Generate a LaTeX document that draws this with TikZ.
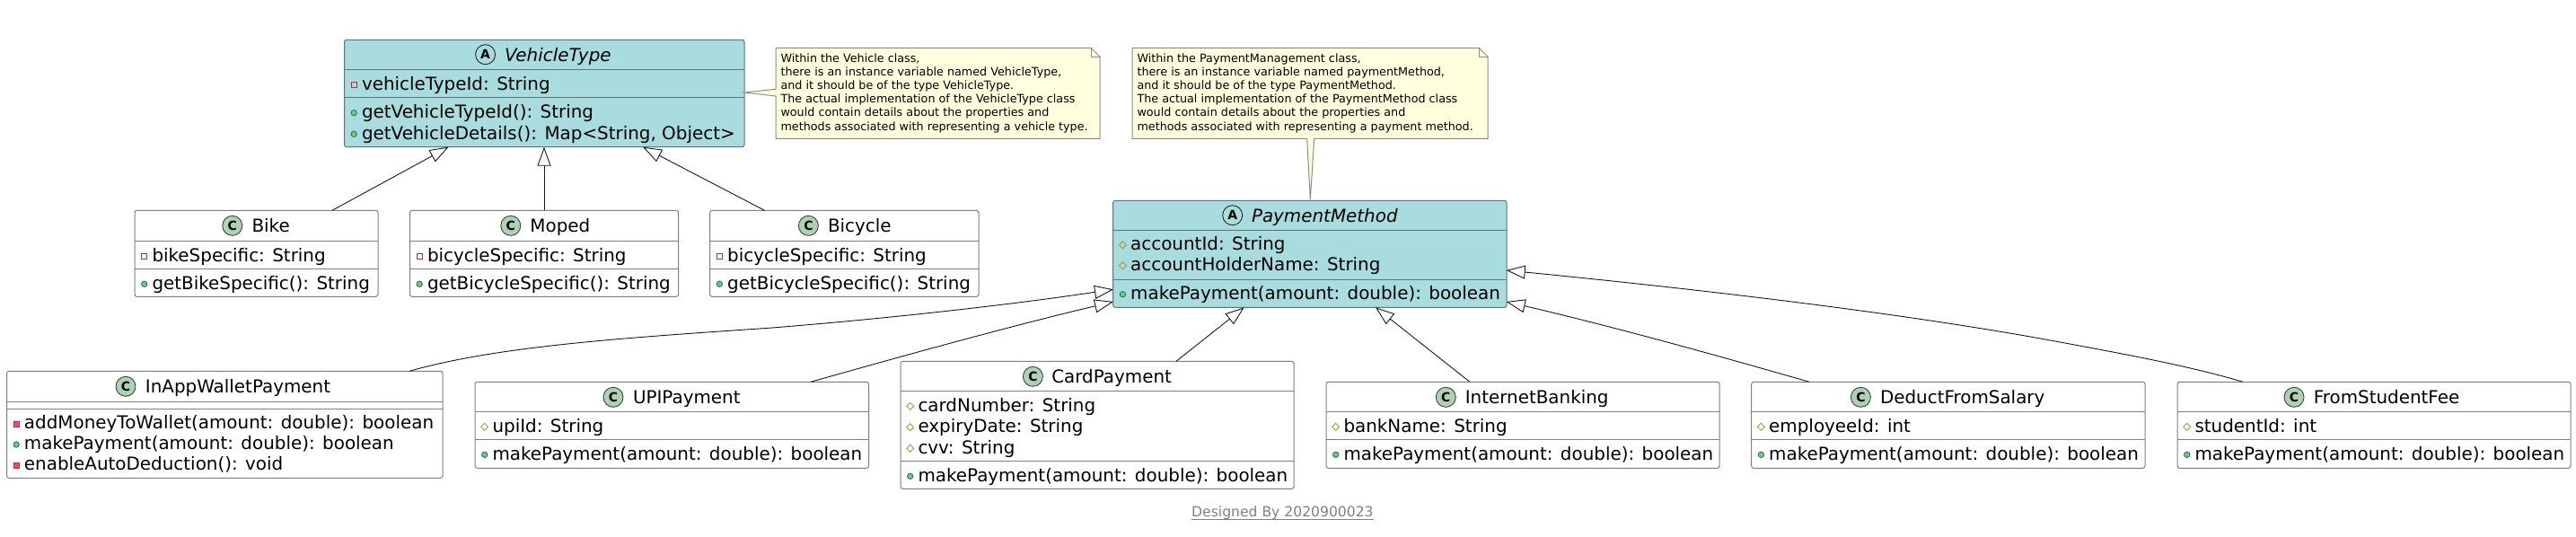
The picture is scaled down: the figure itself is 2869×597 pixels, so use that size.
\documentclass[tikz,border=0pt]{standalone}
\usepackage{fontspec}
\usetikzlibrary{calc,arrows.meta}
\setmainfont{DejaVu Sans}
\definecolor{tealc}{HTML}{A9DCDF}
\definecolor{edgec}{HTML}{181818}
\definecolor{bord}{HTML}{7F7F7F}
\definecolor{tealbord}{HTML}{5F7476}
\definecolor{notefill}{HTML}{FEFFDD}
\definecolor{notebord}{HTML}{8D8D85}
\definecolor{spotc}{HTML}{ADD1B2}
\definecolor{pubg}{HTML}{84BE84}
\definecolor{pubd}{HTML}{038048}
\definecolor{privd}{HTML}{C82930}
\definecolor{privf}{HTML}{F24D5C}
\definecolor{protd}{HTML}{B38D22}
\definecolor{footc}{HTML}{808080}
\newcommand{\tsize}{\fontsize{19.9}{23}\selectfont}
\newcommand{\nsize}{\fontsize{12.75}{15.2}\selectfont}
\tikzset{
 x=1pt,y=-1pt,
 txt/.style={anchor=base west,inner sep=0pt,outer sep=0pt,font=\tsize,text=black},
 ntxt/.style={anchor=north west,inner sep=0pt,outer sep=0pt,font=\nsize,text=black,align=left},
 cbox/.style={draw=bord,fill=white,line width=1pt,rounded corners=2.5pt,inner sep=0pt,outer sep=0pt},
 abox/.style={draw=tealbord,fill=tealc,line width=1pt,rounded corners=2.5pt,inner sep=0pt,outer sep=0pt},
 gen/.style={draw=edgec,line width=0.9pt,-{Triangle[open,fill=white,length=21pt,width=15pt,line width=0.9pt]}},
 notebox/.style={draw=notebord,fill=notefill,line width=1pt,line join=miter}
}
\newcommand{\cls}[6]{%
 \pgfmathsetmacro{\cw}{#4-#2}\pgfmathsetmacro{\ch}{#5-#3}%
 \node[#6,minimum width=\cw pt,minimum height=\ch pt] (#1) at ({(#2+#4)/2},{(#3+#5)/2}) {};}
\newcommand{\dv}[3]{\draw[draw=#3,line width=1pt] ($(#1.north west)+(0,#2)$) -- ($(#1.north east)+(0,#2)$);}
\newcommand{\ttl}[5]{%
 \draw[draw=black!75,fill=spotc,line width=0.9pt] ($(#1.north west)+(#2,17)$) circle (11);
 \node[inner sep=0pt,font=\fontsize{14}{14}\selectfont\bfseries] (#1-s) at ($(#1.north west)+(#2,17)$) {#5};
 \node[txt] (#1-t) at ($(#1.north west)+(#3,24)$) {#4};}
\newcommand{\attl}[4]{%
 \draw[draw=black!85,fill=tealc,line width=0.9pt] ($(#1.north west)+(#2,16.4)$) circle (11);
 \node[inner sep=0pt,font=\fontsize{14}{14}\selectfont\bfseries] (#1-s) at ($(#1.north west)+(#2,16.4)$) {A};
 \node[txt,font=\tsize\itshape] (#1-t) at ($(#1.north west)+(#3,23.7)$) {#4};}
\newcommand{\mem}[5]{%
 \coordinate (ic) at ($(#1.north west)+(10.7,#3-5)$);
 \csname ic#4\endcsname
 \node[txt] (#1-#2) at ($(#1.north west)+(19.5,#3+0.8)$) {#5};}
\newcommand{\icpub}{\draw[draw=pubd,fill=pubg,line width=0.8pt] (ic) circle (3.2);}
\newcommand{\icprivo}{\draw[draw=privd,line width=0.8pt] ($(ic)+(-2.9,-2.9)$) rectangle ($(ic)+(2.9,2.9)$);}
\newcommand{\icprivf}{\draw[draw=privd,fill=privf,line width=0.8pt] ($(ic)+(-2.9,-2.9)$) rectangle ($(ic)+(2.9,2.9)$);}
\newcommand{\icprot}{\draw[draw=protd,line width=0.8pt] ($(ic)+(-4,0)$) -- ($(ic)+(0,-4)$) -- ($(ic)+(4,0)$) -- ($(ic)+(0,4)$) -- cycle;}
\begin{document}
\begin{tikzpicture}
\useasboundingbox[fill=white] (0,0) rectangle (2869,597);
% classes
\cls{vt}{383.5}{44.3}{829}{163.7}{abox}
\cls{pm}{1239.7}{223.3}{1678}{342.3}{abox}
\cls{bike}{150}{234.3}{421}{330.3}{cbox}
\cls{moped}{456.5}{234.3}{755.6}{330.3}{cbox}
\cls{bicycle}{790.7}{234.3}{1090}{330.3}{cbox}
\cls{wal}{7.5}{413.3}{493}{532.3}{cbox}
\cls{upi}{529}{425.3}{967.5}{521.3}{cbox}
\cls{card}{1003}{402.3}{1441}{544.3}{cbox}
\cls{ib}{1477}{425.3}{1915}{521.3}{cbox}
\cls{ded}{1950.7}{425.3}{2389}{521.3}{cbox}
\cls{stu}{2425}{425.3}{2863}{521.3}{cbox}
% connectors
\draw[gen] ($(bike.north west)+(220,0)$) -- ($(vt.south west)+(116.1,0)$);
\draw[gen] ($(moped.north west)+(149.5,0)$) -- ($(vt.south west)+(222.5,0)$);
\draw[gen] ($(bicycle.north west)+(60.8,0)$) -- ($(vt.south west)+(332.5,0)$);
\draw[gen] ($(wal.north west)+(448.5,0)$) .. controls (555,385) and (700,376) .. (860,365) .. controls (960,357) and (1100,343) .. ($(pm.north west)+(0.3,99)$);
\draw[gen] ($(upi.north west)+(374,0)$) .. controls (1010,395) and (1130,362) .. ($(pm.north west)+(0.3,112.7)$);
\draw[gen] ($(card.north west)+(307,0)$) -- ($(pm.south west)+(146,0)$);
\draw[gen] ($(ib.north west)+(160,0)$) -- ($(pm.south west)+(292.3,0)$);
\draw[gen] ($(ded.north west)+(64.3,0)$) .. controls (1910,395) and (1790,362) .. ($(pm.north east)+(-0.3,112.7)$);
\draw[gen] ($(stu.north west)+(73,0)$) .. controls (2440,408) and (2370,395) .. (2289,380) .. controls (2100,345) and (1850,318) .. ($(pm.north east)+(-0.3,77.7)$);
% notes
\coordinate (n1) at (864,53.3);
\draw[notebox] (n1) -- (1215,53.3) -- (1225,63.3) -- (1225,154.3) -- (864,154.3) -- (864,107) -- ($(vt.north east)+(0,58.7)$) -- (864,99.3) -- cycle;
\draw[notebox,fill=none] (1215,53.3) -- (1215,63.3) -- (1225,63.3);
\node[ntxt] (note1) at (869.5,59.5) {Within the Vehicle class,\\there is an instance variable named VehicleType,\\and it should be of the type VehicleType.\\The actual implementation of the VehicleType class\\would contain details about the properties and\\methods associated with representing a vehicle type.};
\coordinate (n2) at (1261,53.3);
\draw[notebox] (n2) -- (1647,53.3) -- (1657,63.3) -- (1657,154.3) -- (1463.7,154.3) -- ($(pm.north west)+(219.6,-1)$) -- (1455.7,154.3) -- (1261,154.3) -- cycle;
\draw[notebox,fill=none] (1647,53.3) -- (1647,63.3) -- (1657,63.3);
\node[ntxt] (note2) at (1266.5,59.5) {Within the PaymentManagement class,\\there is an instance variable named paymentMethod,\\and it should be of the type PaymentMethod.\\The actual implementation of the PaymentMethod class\\would contain details about the properties and\\methods associated with representing a payment method.};
% VehicleType
\dv{vt}{33}{tealbord}\dv{vt}{64.4}{tealbord}
\attl{vt}{157.1}{178.5}{VehicleType}
\mem{vt}{a}{55.2}{privo}{vehicleTypeId: String}
\mem{vt}{b}{86.4}{pub}{getVehicleTypeId(): String}
\mem{vt}{c}{110}{pub}{getVehicleDetails(): Map<String, Object>}
% PaymentMethod
\dv{pm}{32.7}{tealbord}\dv{pm}{87.7}{tealbord}
\attl{pm}{133}{154.3}{PaymentMethod}
\mem{pm}{a}{54.5}{prot}{accountId: String}
\mem{pm}{b}{77.5}{prot}{accountHolderName: String}
\mem{pm}{c}{109.5}{pub}{makePayment(amount: double): boolean}
% Bike, Moped, Bicycle
\dv{bike}{34}{bord}\dv{bike}{65}{bord}
\ttl{bike}{108.8}{130.5}{Bike}{C}
\mem{bike}{a}{56}{privo}{bikeSpecific: String}
\mem{bike}{b}{87}{pub}{getBikeSpecific(): String}
\dv{moped}{34}{bord}\dv{moped}{65}{bord}
\ttl{moped}{112.3}{133.9}{Moped}{C}
\mem{moped}{a}{56}{privo}{bicycleSpecific: String}
\mem{moped}{b}{87}{pub}{getBicycleSpecific(): String}
\dv{bicycle}{34}{bord}\dv{bicycle}{65}{bord}
\ttl{bicycle}{109.7}{131.3}{Bicycle}{C}
\mem{bicycle}{a}{56}{privo}{bicycleSpecific: String}
\mem{bicycle}{b}{87}{pub}{getBicycleSpecific(): String}
% InApp
\dv{wal}{34}{bord}\dv{wal}{42}{bord}
\ttl{wal}{132.5}{154.4}{InAppWalletPayment}{C}
\mem{wal}{a}{63.7}{privf}{addMoneyToWallet(amount: double): boolean}
\mem{wal}{b}{86.7}{pub}{makePayment(amount: double): boolean}
\mem{wal}{c}{109.7}{privf}{enableAutoDeduction(): void}
% UPI
\dv{upi}{33}{bord}\dv{upi}{64}{bord}
\ttl{upi}{154}{176}{UPIPayment}{C}
\mem{upi}{a}{55}{prot}{upiId: String}
\mem{upi}{b}{86}{pub}{makePayment(amount: double): boolean}
% Card
\dv{card}{33}{bord}\dv{card}{111}{bord}
\ttl{card}{147.4}{168.3}{CardPayment}{C}
\mem{card}{a}{55}{prot}{cardNumber: String}
\mem{card}{b}{78.5}{prot}{expiryDate: String}
\mem{card}{c}{102}{prot}{cvv: String}
\mem{card}{d}{133}{pub}{makePayment(amount: double): boolean}
% Internet
\dv{ib}{33}{bord}\dv{ib}{64}{bord}
\ttl{ib}{133.3}{154.8}{InternetBanking}{C}
\mem{ib}{a}{55}{prot}{bankName: String}
\mem{ib}{b}{86}{pub}{makePayment(amount: double): boolean}
% Deduct
\dv{ded}{33}{bord}\dv{ded}{64}{bord}
\ttl{ded}{121.7}{143.3}{DeductFromSalary}{C}
\mem{ded}{a}{55}{prot}{employeeId: int}
\mem{ded}{b}{86}{pub}{makePayment(amount: double): boolean}
% Student
\dv{stu}{33}{bord}\dv{stu}{64}{bord}
\ttl{stu}{130}{151.8}{FromStudentFee}{C}
\mem{stu}{a}{55}{prot}{studentId: int}
\mem{stu}{b}{86}{pub}{makePayment(amount: double): boolean}
% footer
\node[inner sep=0pt,anchor=base west,text=footc,font=\fontsize{15.6}{18}\selectfont] (foot) at (1327,575) {Designed By 2020900023};
\draw[footc,line width=1pt] (foot.base west |- 0,578) -- (foot.base east |- 0,578);
\end{tikzpicture}
\end{document}
